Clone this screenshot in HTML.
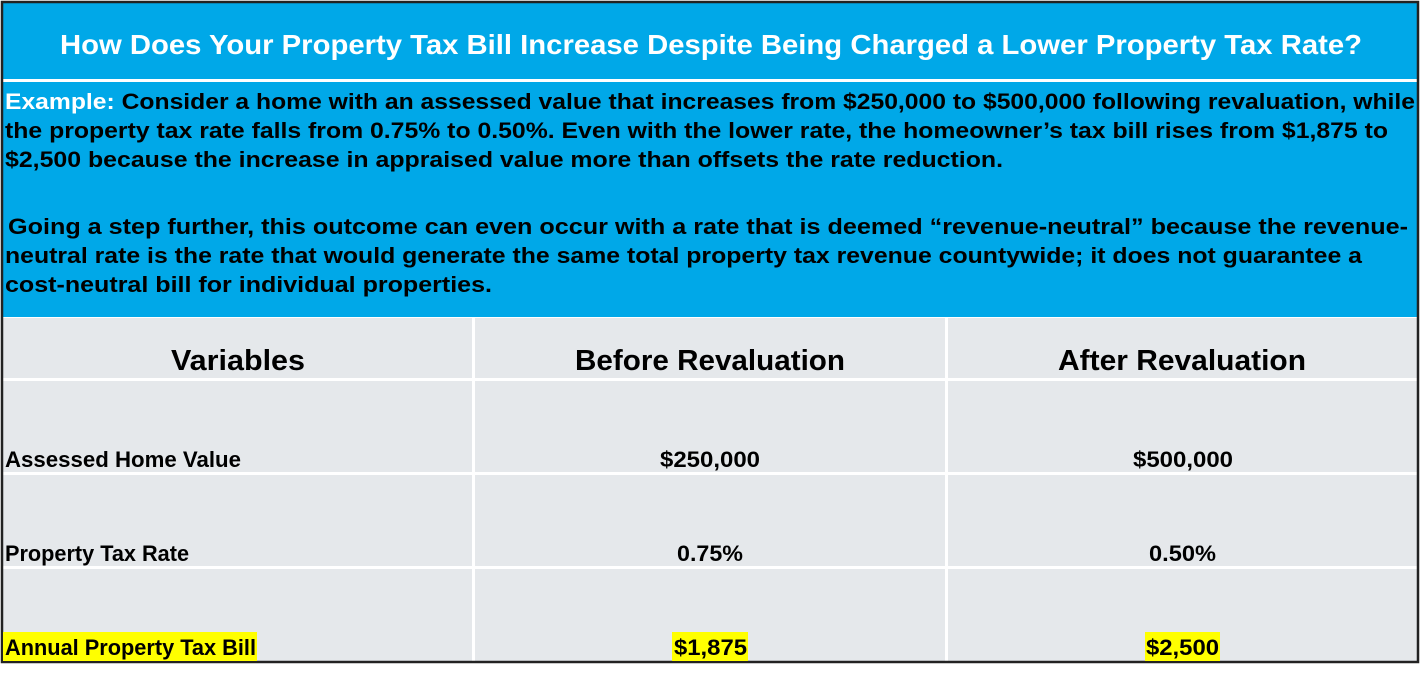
<!DOCTYPE html>
<html><head><meta charset="utf-8"><style>
html,body{margin:0;padding:0;background:#fff;width:1425px;height:682px;overflow:hidden}
svg{display:block}
text{font-family:"Liberation Sans",sans-serif;font-weight:bold}
</style></head><body>
<svg width="1425" height="682" viewBox="0 0 1425 682">
<rect x="0" y="0" width="1425" height="682" fill="#fff"/>
<rect x="2" y="2" width="1416" height="315" fill="#00a8e8"/>
<rect x="2" y="79" width="1416" height="3" fill="#fff"/>
<rect x="2" y="318" width="1416" height="344" fill="#e5e8eb"/>
<g fill="#fff">
<rect x="2" y="378" width="1416" height="3"/>
<rect x="2" y="472" width="1416" height="3"/>
<rect x="2" y="566" width="1416" height="3"/>
<rect x="472" y="318" width="3" height="344"/>
<rect x="945" y="318" width="3" height="344"/>
</g>
<rect x="2" y="2" width="1416" height="660" fill="none" stroke="#222" stroke-width="2.5"/>
<text x="60" y="54" font-size="28" fill="#fff" textLength="1302" lengthAdjust="spacingAndGlyphs">How Does Your Property Tax Bill Increase Despite Being Charged a Lower Property Tax Rate?</text>
<g font-size="22" fill="#000">
<text x="5" y="109" textLength="1410" lengthAdjust="spacingAndGlyphs"><tspan fill="#fff">Example: </tspan>Consider a home with an assessed value that increases from $250,000 to $500,000 following revaluation, while</text>
<text x="5" y="138" textLength="1383" lengthAdjust="spacingAndGlyphs">the property tax rate falls from 0.75% to 0.50%. Even with the lower rate, the homeowner’s tax bill rises from $1,875 to</text>
<text x="5" y="167" textLength="998" lengthAdjust="spacingAndGlyphs">$2,500 because the increase in appraised value more than offsets the rate reduction.</text>
<text x="8" y="234" textLength="1400" lengthAdjust="spacingAndGlyphs">Going a step further, this outcome can even occur with a rate that is deemed “revenue-neutral” because the revenue-</text>
<text x="5" y="263" textLength="1357" lengthAdjust="spacingAndGlyphs">neutral rate is the rate that would generate the same total property tax revenue countywide; it does not guarantee a</text>
<text x="5" y="292" textLength="487" lengthAdjust="spacingAndGlyphs">cost-neutral bill for individual properties.</text>
</g>
<g font-size="29" fill="#000">
<text x="171" y="370" textLength="134" lengthAdjust="spacingAndGlyphs">Variables</text>
<text x="575" y="370" textLength="270" lengthAdjust="spacingAndGlyphs">Before Revaluation</text>
<text x="1058" y="370" textLength="248" lengthAdjust="spacingAndGlyphs">After Revaluation</text>
</g>
<g fill="#ffff00">
<rect x="3" y="632" width="254" height="29"/>
<rect x="672" y="632" width="76" height="29"/>
<rect x="1145" y="632" width="75" height="29"/>
</g>
<g font-size="22" fill="#000">
<text x="5" y="467" textLength="236" lengthAdjust="spacingAndGlyphs">Assessed Home Value</text>
<text x="5" y="561" textLength="184" lengthAdjust="spacingAndGlyphs">Property Tax Rate</text>
<text x="5" y="655" textLength="251" lengthAdjust="spacingAndGlyphs">Annual Property Tax Bill</text>
<text x="660" y="467" textLength="100" lengthAdjust="spacingAndGlyphs">$250,000</text>
<text x="1133" y="467" textLength="100" lengthAdjust="spacingAndGlyphs">$500,000</text>
<text x="677" y="561" textLength="66" lengthAdjust="spacingAndGlyphs">0.75%</text>
<text x="1149" y="561" textLength="67" lengthAdjust="spacingAndGlyphs">0.50%</text>
<text x="674" y="655" textLength="73" lengthAdjust="spacingAndGlyphs">$1,875</text>
<text x="1146" y="655" textLength="73" lengthAdjust="spacingAndGlyphs">$2,500</text>
</g>
</svg>
</body></html>
